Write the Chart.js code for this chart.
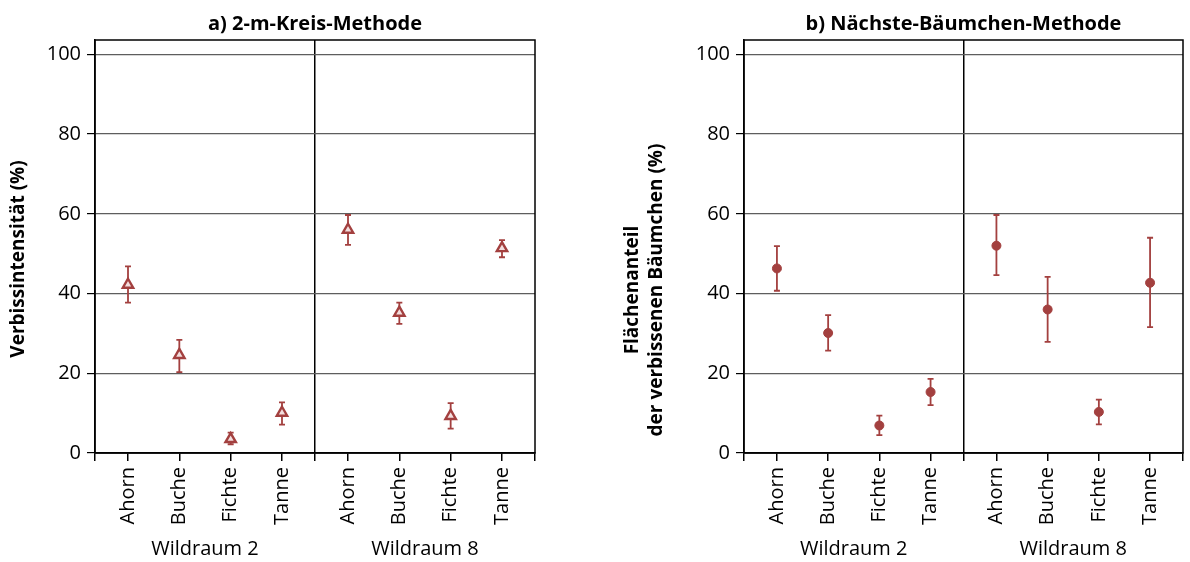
<!DOCTYPE html>
<html>
<head>
<meta charset="utf-8">
<script src="https://cdn.jsdelivr.net/npm/chart.js@4"></script>
<style>
  html, body { margin: 0; padding: 0; background: #fff; }
  .panel { position: absolute; top: 0; width: 595px; height: 562px; }
</style>
</head>
<body>
<div class="panel" style="left:0"><canvas id="chart-a"></canvas></div>
<div class="panel" style="left:595px"><canvas id="chart-b"></canvas></div>
<script>
// ====== Daten ======
const categories = ['Ahorn', 'Buche', 'Fichte', 'Tanne'];
const groups = ['Wildraum 2', 'Wildraum 8'];
const yTicks = [0, 20, 40, 60, 80, 100];

// a) 2-m-Kreis-Methode (Mittelwert + Fehlerbalken)
const kreisMean = [42.2, 24.6, 3.5, 10.1, 56.0, 35.2, 9.3, 51.4];
const kreisLow  = [37.7, 20.3, 2.2, 7.1, 52.2, 32.4, 6.1, 49.1];
const kreisHigh = [46.8, 28.4, 5.1, 12.7, 59.7, 37.7, 12.5, 53.4];

// b) Nächste-Bäumchen-Methode
const baumMean = [46.3, 30.1, 6.9, 15.3, 52.0, 36.0, 10.3, 42.7];
const baumLow  = [40.7, 25.7, 4.5, 12.0, 44.6, 27.9, 7.2, 31.6];
const baumHigh = [51.9, 34.6, 9.4, 18.6, 59.7, 44.2, 13.4, 54.0];

const red = '#a3403f';
const FONT = "'Open Sans', sans-serif";

// x-Positionen: Kategorien im Abstand 1, Rand innerhalb jeder Gruppe
const pad = 0.643;
const groupWidth = (categories.length - 1) + 2 * pad;
const xMax = groupWidth * groups.length;
const xPos = [];
const tickVals = [0];
const tickLabels = [''];
groups.forEach(function(g, gi) {
  categories.forEach(function(c, ci) {
    const v = gi * groupWidth + pad + ci;
    xPos.push(v);
    tickVals.push(v);
    tickLabels.push(c);
  });
  tickVals.push((gi + 1) * groupWidth);
  tickLabels.push('');
});
const separators = groups.slice(1).map(function(g, i) { return (i + 1) * groupWidth; });

// Fehlerbalken, Rahmen, Achsentitel und Gruppenbeschriftung
const extras = {
  id: 'extras',
  beforeDatasetsDraw(chart, args, opts) {
    const c = chart.ctx, xs = chart.scales.x, ys = chart.scales.y;
    c.save();
    c.strokeStyle = red;
    c.lineWidth = 1.8;
    opts.low.forEach(function(lo, i) {
      const x = xs.getPixelForValue(xPos[i]);
      const y1 = ys.getPixelForValue(lo);
      const y2 = ys.getPixelForValue(opts.high[i]);
      c.beginPath();
      c.moveTo(x, y1); c.lineTo(x, y2);
      c.moveTo(x - 3, y1); c.lineTo(x + 3, y1);
      c.moveTo(x - 3, y2); c.lineTo(x + 3, y2);
      c.stroke();
    });
    c.restore();
  },
  afterDraw(chart, args, opts) {
    const c = chart.ctx, a = chart.chartArea, xs = chart.scales.x;
    c.save();
    c.strokeStyle = '#000';
    c.lineWidth = 1.5;
    c.strokeRect(a.left, a.top, a.right - a.left, a.bottom - a.top);
    c.fillStyle = '#000';
    c.font = '20px ' + FONT;
    c.textAlign = 'center';
    c.textBaseline = 'middle';
    groups.forEach(function(g, gi) {
      c.fillText(g, xs.getPixelForValue(gi * groupWidth + groupWidth / 2), 549);
    });
    // y-Achsentitel (gedreht)
    c.font = 'bold 19px ' + FONT;
    c.translate(opts.yTitleX, opts.yTitleY);
    c.rotate(-Math.PI / 2);
    opts.yTitle.forEach(function(line, i) {
      c.fillText(line, 0, i * 24);
    });
    c.restore();
  }
};

function makeChart(el, cfg) {
  return new Chart(el, {
    type: 'scatter',
    data: {
      datasets: [{
        data: cfg.mean.map(function(v, i) { return { x: xPos[i], y: v }; }),
        pointStyle: cfg.pointStyle,
        radius: cfg.radius,
        backgroundColor: cfg.pointFill,
        borderColor: red,
        borderWidth: cfg.pointBorder
      }]
    },
    options: {
      responsive: true,
      maintainAspectRatio: false,
      animation: false,
      layout: { padding: { left: 0, right: cfg.padRight, top: 0, bottom: 0 } },
      plugins: {
        legend: { display: false },
        tooltip: { enabled: false },
        title: {
          display: true,
          text: cfg.title,
          fullSize: false,
          color: '#000',
          font: { family: FONT, size: 20, weight: 'bold', lineHeight: 1.2 },
          padding: { top: 12, bottom: 4 }
        },
        extras: {
          low: cfg.low, high: cfg.high,
          yTitle: cfg.yTitle, yTitleX: cfg.yTitleX, yTitleY: cfg.yTitleY
        }
      },
      scales: {
        x: {
          type: 'linear',
          min: 0,
          max: xMax,
          afterBuildTicks: function(axis) {
            axis.ticks = tickVals.map(function(v) { return { value: v }; });
          },
          afterFit: function(axis) {
            axis.height = 109;
            axis.paddingLeft = 0;
            axis.paddingRight = 0;
          },
          ticks: {
            autoSkip: false,
            minRotation: 90,
            maxRotation: 90,
            padding: 6,
            color: '#000',
            font: { family: FONT, size: 20 },
            callback: function(value, index) { return tickLabels[index]; }
          },
          grid: {
            color: function(ctx) {
              return (ctx.tick && separators.indexOf(ctx.tick.value) >= 0) ? '#000' : 'rgba(0,0,0,0)';
            },
            lineWidth: 1.5,
            tickColor: '#000',
            tickLength: 8
          },
          border: { color: '#000', width: 1.5 }
        },
        y: {
          min: 0,
          max: 103.6,
          afterBuildTicks: function(axis) {
            axis.ticks = yTicks.map(function(v) { return { value: v }; });
          },
          afterFit: function(axis) {
            axis.width = cfg.yWidth;
            axis.paddingTop = 0;
            axis.paddingBottom = 0;
          },
          ticks: {
            padding: 6,
            color: '#000',
            font: { family: FONT, size: 20 }
          },
          grid: {
            color: '#5e5e5e',
            lineWidth: 1.2,
            tickColor: '#000',
            tickLength: 8
          },
          border: { color: '#000', width: 1.5 }
        }
      }
    },
    plugins: [extras]
  });
}

// ====== Chart a ======
makeChart(document.getElementById('chart-a'), {
  title: 'a) 2-m-Kreis-Methode',
  yTitle: ['Verbissintensität (%)'],
  yTitleX: 19, yTitleY: 259,
  yWidth: 95,
  padRight: 60,
  mean: kreisMean, low: kreisLow, high: kreisHigh,
  pointStyle: 'triangle', radius: 6, pointFill: '#f3dede', pointBorder: 2.4
});

// ====== Chart b ======
makeChart(document.getElementById('chart-b'), {
  title: 'b) Nächste-Bäumchen-Methode',
  yTitle: ['Flächenanteil', 'der verbissenen Bäumchen (%)'],
  yTitleX: 38, yTitleY: 290,
  yWidth: 149,
  padRight: 7,
  mean: baumMean, low: baumLow, high: baumHigh,
  pointStyle: 'circle', radius: 4.5, pointFill: red, pointBorder: 1
});
</script>
</body>
</html>
